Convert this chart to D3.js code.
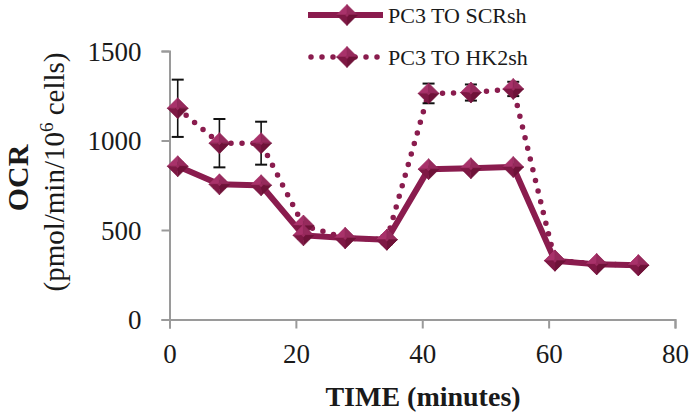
<!DOCTYPE html>
<html>
<head>
<meta charset="utf-8">
<script src="https://cdn.jsdelivr.net/npm/d3@7"></script>
<style>
  html, body { margin: 0; padding: 0; background: #fff; }
  svg { display: block; }
  text { font-family: "Liberation Serif", "Times New Roman", serif; fill: #1a1a1a; }
</style>
</head>
<body>
<svg id="chart" width="692" height="413"></svg>
<script>
// ---- data ----
const times = [1.3, 7.9, 14.5, 21.2, 27.8, 34.4, 41.0, 47.7, 54.4, 61.0, 67.6, 74.2];
const scrValues = [856, 755, 750, 470, 455, 446, 840, 845, 852, 328, 308, 303];
const scrErrors = [20, 20, 15, 20, 15, 15, 15, 15, 15, 10, 10, 10];
const hk2Values = [1180, 985, 985, 525, 455, 446, 1263, 1268, 1288, 330, 310, 303];
const hk2Errors = [160, 135, 120, 20, 15, 25, 55, 45, 40, 15, 10, 10];
const seriesNames = ["PC3 TO SCRsh", "PC3 TO HK2sh"];
const xTicks = [0, 20, 40, 60, 80];
const yTicks = [0, 500, 1000, 1500];

const color = "#8A1C4E";
const serif = "Liberation Serif, Times New Roman, serif";
const svg = d3.select("#chart");

const x = d3.scaleLinear().domain([0, 80]).range([169.5, 675]);
const y = d3.scaleLinear().domain([0, 1500]).range([319.5, 51]);

// ---- axes ----
const axisColor = "#9a9a9a";
const xAxis = svg.append("g").attr("transform", "translate(0,319.5)")
  .call(d3.axisBottom(x).tickValues(xTicks).tickSize(9).tickPadding(15).tickFormat(d3.format("d")));
const yAxis = svg.append("g").attr("transform", "translate(169.5,0)")
  .call(d3.axisLeft(y).tickValues(yTicks).tickSize(8).tickPadding(20).tickFormat(d3.format("d")));
[xAxis, yAxis].forEach(g => {
  g.attr("font-family", serif).attr("font-size", 27);
  g.select(".domain").attr("stroke", axisColor).attr("stroke-width", 2);
  g.selectAll(".tick line").attr("stroke", axisColor).attr("stroke-width", 2);
  g.selectAll(".tick text").attr("font-family", serif).style("font-family", serif)
    .style("font-size", "27px").attr("fill", "#1a1a1a");
});
xAxis.selectAll(".tick text").attr("dy", "0.72em");
yAxis.selectAll(".tick text").attr("dy", "0.34em");

// axis titles
svg.append("text").attr("x", 423).attr("y", 406).attr("text-anchor", "middle")
  .style("font-size", "28px").style("font-weight", "bold").text("TIME (minutes)");

svg.append("text").attr("transform", "translate(28,178) rotate(-90)").attr("text-anchor", "middle")
  .style("font-size", "30px").style("font-weight", "bold").text("OCR");
const yl = svg.append("text").attr("transform", "translate(64,172) rotate(-90)").attr("text-anchor", "middle")
  .style("font-size", "29px");
yl.append("tspan").text("(pmol/min/10");
yl.append("tspan").attr("dy", -11).style("font-size", "19px").text("6");
yl.append("tspan").attr("dy", 11).text(" cells)");

// ---- marker (bevelled diamond) ----
function diamond(g, cx, cy, r) {
  const m = g.append("g").attr("transform", `translate(${cx},${cy})`);
  const c = r * 0.18;
  const faces = [
    {pts: [[-r,0],[0,-r],[0,0]], fill: "#A8326A"},
    {pts: [[0,-r],[r,0],[0,0]], fill: "#962A5C"},
    {pts: [[r,0],[0,r],[0,0]], fill: "#6E1238"},
    {pts: [[0,r],[-r,0],[0,0]], fill: "#7E1844"}
  ];
  faces.forEach(f => m.append("path")
    .attr("d", "M" + f.pts.map(p => p.join(",")).join("L") + "Z")
    .attr("fill", f.fill).attr("stroke", f.fill).attr("stroke-width", 0.6));
  m.append("path").attr("d", `M${-c},0L0,${-c}L${c},0L0,${c}Z`).attr("fill", "#9A2A5E");
}

const line = d3.line().x((d, i) => x(times[i])).y(d => y(d));

function errorBars(vals, errs) {
  const g = svg.append("g").attr("stroke", "#111").attr("stroke-width", 1.6);
  vals.forEach((v, i) => {
    const cx = x(times[i]);
    g.append("line").attr("x1", cx).attr("x2", cx).attr("y1", y(v - errs[i])).attr("y2", y(v + errs[i]));
    [v - errs[i], v + errs[i]].forEach(e =>
      g.append("line").attr("x1", cx - 6).attr("x2", cx + 6).attr("y1", y(e)).attr("y2", y(e)).attr("stroke-width", 2));
  });
}

// HK2sh (dotted)
svg.append("path").datum(hk2Values).attr("d", line).attr("fill", "none")
  .attr("stroke", color).attr("stroke-width", 5.5).attr("stroke-linecap", "round")
  .attr("stroke-dasharray", "0 11");
// SCRsh (solid)
svg.append("path").datum(scrValues).attr("d", line).attr("fill", "none")
  .attr("stroke", color).attr("stroke-width", 6).attr("stroke-linejoin", "round");

errorBars(scrValues, scrErrors);
errorBars(hk2Values, hk2Errors);

const mk = svg.append("g");
hk2Values.forEach((v, i) => diamond(mk, x(times[i]), y(v), 10.5));
scrValues.forEach((v, i) => diamond(mk, x(times[i]), y(v), 10.5));

// ---- legend ----
const legend = svg.append("g");
const legY = [15, 57];
legend.append("line").attr("x1", 308).attr("x2", 383).attr("y1", legY[0]).attr("y2", legY[0])
  .attr("stroke", color).attr("stroke-width", 6);
legend.append("line").attr("x1", 311).attr("x2", 383).attr("y1", legY[1]).attr("y2", legY[1])
  .attr("stroke", color).attr("stroke-width", 5.5).attr("stroke-linecap", "round").attr("stroke-dasharray", "0 11");
legY.forEach((ly, i) => {
  diamond(legend, 347, ly, 10.5);
  legend.append("text").attr("x", 388).attr("y", ly + 7.5)
    .attr("font-family", serif).style("font-size", "22px").text(seriesNames[i]);
});
</script>
</body>
</html>
